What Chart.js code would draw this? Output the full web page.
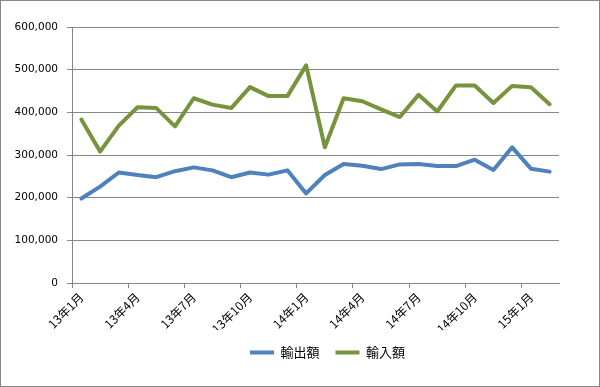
<!DOCTYPE html>
<html>
<head>
<meta charset="utf-8">
<script src="https://cdn.jsdelivr.net/npm/chart.js@4.4.1/dist/chart.umd.min.js"></script>
<style>
html,body{margin:0;padding:0;background:#fff;}
#wrap{width:600px;height:387px;position:relative;}
</style>
</head>
<body>
<div id="wrap"><canvas id="c" width="600" height="387"></canvas></div>
<script>
const categories = ['13年1月','13年2月','13年3月','13年4月','13年5月','13年6月','13年7月','13年8月','13年9月','13年10月','13年11月','13年12月',
  '14年1月','14年2月','14年3月','14年4月','14年5月','14年6月','14年7月','14年8月','14年9月','14年10月','14年11月','14年12月',
  '15年1月','15年2月'];
const exports = [198000,226000,259000,253000,248000,262000,271000,264000,248000,259000,254000,264000,
  210000,253000,279000,275000,267000,278000,279000,274000,274000,289000,265000,318000,268000,261000];
const imports = [383000,308000,369000,412000,410000,367000,433000,418000,410000,459000,438000,438000,
  510000,318000,433000,426000,407000,389000,441000,402000,463000,463000,422000,462000,459000,419000];
const yTicks = [0,100000,200000,300000,400000,500000,600000];
const seriesNames = ['輸出額','輸入額'];

const GRID = '#868686';
const framePlugin = {
  id:'frame',
  afterLayout(chart){
    if (chart.legend){ chart.legend.left += 48; chart.legend.right += 48; }
  },
  beforeDraw(chart){
    const c = chart.ctx;
    c.save(); c.fillStyle='#fff'; c.fillRect(0,0,chart.width,chart.height); c.restore();
  },
  afterDraw(chart){
    const c = chart.ctx;
    c.save(); c.strokeStyle=GRID; c.lineWidth=1;
    c.strokeRect(0.5,0.5,chart.width-1,chart.height-1); c.restore();
  }
};

new Chart(document.getElementById('c'), {
  type:'line',
  data:{
    labels:categories,
    datasets:[
      {label:seriesNames[0], data:exports, borderColor:'#4F81BD', backgroundColor:'#4F81BD', borderWidth:4, pointRadius:0, tension:0, borderCapStyle:'round', borderJoinStyle:'round'},
      {label:seriesNames[1], data:imports, borderColor:'#77933C', backgroundColor:'#77933C', borderWidth:4, pointRadius:0, tension:0, borderCapStyle:'round', borderJoinStyle:'round'}
    ]
  },
  options:{
    responsive:false,
    animation:false,
    layout:{padding:{top:27,right:41,bottom:18,left:0}},
    plugins:{
      legend:{
        position:'bottom',
        labels:{
          usePointStyle:true, pointStyle:'line', pointStyleWidth:24,
          font:{family:'"Noto Sans CJK JP"', size:13}, color:'#000', padding:16
        }
      },
      tooltip:{enabled:false}
    },
    scales:{
      x:{
        type:'category', offset:true,
        grid:{offset:true, drawOnChartArea:false, tickLength:5,
          color:(ctx)=> (ctx.index % 3 === 0 ? GRID : 'rgba(0,0,0,0)')},
        border:{color:GRID},
        ticks:{autoSkip:false, minRotation:45, maxRotation:45, padding:2, color:'#000',
          font:{family:'"Noto Sans CJK JP"', size:12},
          callback:(v,i)=> (i % 3 === 0 ? categories[i] : '')},
        afterFit:(s)=>{ s.height = 47; }
      },
      y:{
        min:0, max:600000,
        afterBuildTicks:(s)=>{ s.ticks = yTicks.map(v=>({value:v})); },
        grid:{color:GRID, tickLength:5},
        border:{color:GRID},
        ticks:{padding:9, color:'#000', font:{family:'"DejaVu Sans"', size:10.5},
          callback:(v)=> v.toLocaleString('en-US')},
        afterFit:(s)=>{ s.width = 72; }
      }
    }
  },
  plugins:[framePlugin]
});
</script>
</body>
</html>
